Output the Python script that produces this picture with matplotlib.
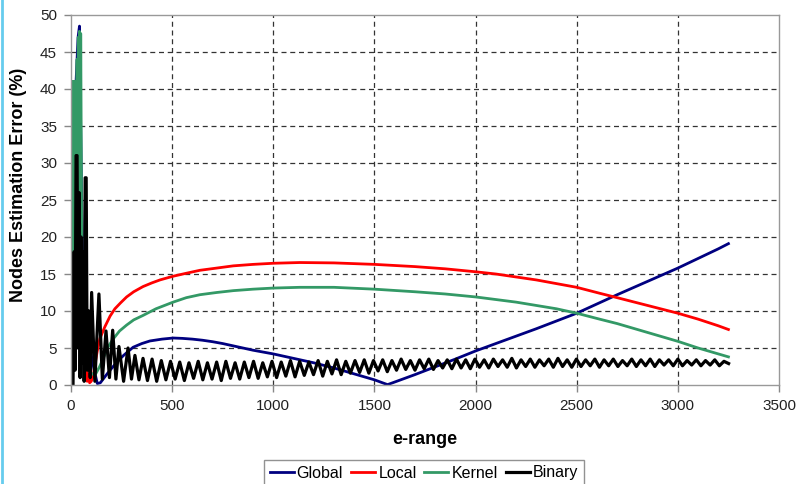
import numpy as np
import matplotlib
matplotlib.use("Agg")
import matplotlib.pyplot as plt
from matplotlib.lines import Line2D

plt.rcParams['font.family'] = ['Liberation Sans', 'DejaVu Sans']

# ---- data -------------------------------------------------------------
global_x = [0, 5, 15, 25, 35, 42, 50, 60, 75, 95, 115, 130, 145, 170, 193, 230,
            260, 307, 350, 390, 450, 505, 550, 600, 650, 700, 750, 800, 850, 900,
            950, 1000, 1100, 1200, 1300, 1400, 1500, 1565, 1600, 1700, 1800, 1900,
            2000, 2100, 2200, 2300, 2400, 2500, 2600, 2700, 2800, 2900, 3000,
            3100, 3200, 3250]
global_y = [0, 20, 41, 41, 47, 48.5, 30, 12, 6, 4.7, 2, 0.2, 0.3, 1.2, 2.0, 3.2,
            4.0, 5.1, 5.6, 5.95, 6.2, 6.35, 6.3, 6.2, 6.05, 5.85, 5.6, 5.3, 5.0, 4.7,
            4.45, 4.2, 3.6, 3.0, 2.3, 1.5, 0.7, 0.05, 0.4, 1.4, 2.45, 3.5,
            4.6, 5.6, 6.6, 7.6, 8.65, 9.7, 10.95, 12.2, 13.4, 14.6, 15.8,
            17.1, 18.4, 19.1]

local_x = [0, 10, 20, 30, 40, 50, 60, 70, 80, 88, 92, 100, 110, 120, 130, 143,
           168, 193, 217, 245, 275, 310, 356, 400, 440, 505, 570, 637, 720, 802,
           900, 1000, 1131, 1300, 1500, 1700, 1850, 2000, 2100, 2200, 2300, 2400,
           2500, 2613, 2700, 2800, 2900, 3000, 3100, 3200, 3250]
local_y = [0, 10, 30, 32.5, 20, 12, 10.5, 6, 0.5, 1.5, 0.3, 0.5, 1.2, 3.0, 4.6, 6.3,
           7.9, 9.3, 10.3, 11.1, 11.9, 12.6, 13.3, 13.8, 14.2, 14.7, 15.1, 15.5, 15.8, 16.1,
           16.3, 16.45, 16.55, 16.5, 16.3, 16.0, 15.7, 15.3, 15.0, 14.6, 14.2, 13.7,
           13.2, 12.4, 11.8, 11.1, 10.4, 9.7, 8.9, 8.0, 7.5]

kernel_x = [0, 4, 7, 10, 13, 16, 19, 22, 26, 30, 33, 36, 39, 42, 45, 48, 52, 56,
            60, 65, 70, 78, 88, 100, 118, 140, 158, 180, 208, 240, 275, 310, 356,
            420, 505, 570, 637, 720, 802, 900, 1000, 1131, 1300, 1500, 1700, 1850,
            2000, 2200, 2400, 2500, 2613, 2700, 2800, 2900, 3000, 3100, 3200, 3250]
kernel_y = [0, 41, 1, 41, 2, 41, 3, 41, 5, 44, 8, 47, 10, 47.8, 15, 47.5, 25, 8,
            14, 4, 8, 3, 2, 1.6, 1.3, 2.4, 3.5, 5.0, 6.2, 7.3, 8.1, 8.8, 9.4,
            10.3, 11.2, 11.8, 12.2, 12.5, 12.75, 12.95, 13.1, 13.2, 13.2, 12.95, 12.6, 12.3,
            11.9, 11.2, 10.3, 9.7, 8.9, 8.3, 7.5, 6.7, 5.9, 5.0, 4.2, 3.8]

# start of the binary search curve (large swings)
binary_head_x = [0, 10, 15, 20, 25, 30, 35, 40, 45, 50, 55, 60, 65, 70, 75, 80,
                 88, 95, 102, 118, 138, 155, 173, 190, 206, 222, 237, 260, 282,
                 299, 316, 336, 356]
binary_head_y = [0, 0, 18, 2, 31, 31, 5, 26, 1, 20, 3, 18, 0.5, 28, 28, 2,
                 10, 1, 12.5, 0.5, 12.3, 0.8, 7.3, 1.0, 7.4, 0.8, 5.2, 0.5, 5.0,
                 0.8, 4.0, 0.7, 3.6]
# steady oscillation, alternating trough / peak every half period
binary_tail_start = 378
binary_tail_step = 22.8
binary_tail_y = [
    0.6, 3.5, 0.5, 3.3, 0.7, 3.2,
    0.8, 3.1, 0.6, 3.0, 0.9, 3.2, 0.7, 3.0, 0.8, 3.1, 0.6, 3.2, 0.9, 3.0, 0.8, 3.1, 1.0, 3.2, 0.9, 3.0, 1.1, 3.2,
    1.0, 3.1, 1.2, 3.3, 1.1, 3.2, 1.3, 3.1, 1.4, 3.3, 1.2, 3.2, 1.5, 3.4, 1.4, 3.2, 1.6, 3.3, 1.7, 3.4, 1.6, 3.3,
    1.9, 3.4, 1.8, 3.3, 2.0, 3.5, 2.1, 3.3, 2.0, 3.4, 2.2, 3.5, 2.1, 3.3, 2.3, 3.4, 2.2, 3.5, 2.3, 3.4, 2.2, 3.5,
    2.4, 3.4, 2.3, 3.5, 2.5, 3.4, 2.4, 3.6, 2.3, 3.4, 2.5, 3.5, 2.4, 3.4, 2.6, 3.5, 2.4, 3.6, 2.5, 3.4, 2.4, 3.5,
    2.5, 3.4, 2.6, 3.5, 2.4, 3.4, 2.6, 3.5, 2.5, 3.3, 2.6, 3.5, 2.5, 3.4, 2.6, 3.5, 2.5, 3.4, 2.7, 3.4, 2.6, 3.5,
    2.6, 3.3, 2.7, 3.4, 2.6, 3.3, 2.7, 3.4, 2.6, 3.2, 2.9,
]

series_names = ["Global", "Local", "Kernel", "Binary"]
series_colors = ["#000080", "#ff0000", "#339966", "#000000"]
series_widths = [2.0, 2.0, 2.0, 2.3]

x_ticks = [0, 500, 1000, 1500, 2000, 2500, 3000, 3500]
y_ticks = [0, 5, 10, 15, 20, 25, 30, 35, 40, 45, 50]

# ---- figure -----------------------------------------------------------
fig = plt.figure(figsize=(7.98, 4.84), dpi=100)
ax = fig.add_axes([71 / 798, 1 - 385 / 484, 708 / 798, 370 / 484])

binary_tail_x = binary_tail_start + binary_tail_step * np.arange(len(binary_tail_y))
binary_x = np.concatenate([binary_head_x, binary_tail_x])
binary_y = np.concatenate([binary_head_y, binary_tail_y])

data = [(global_x, global_y), (local_x, local_y), (kernel_x, kernel_y), (binary_x, binary_y)]
for (xs, ys), name, col, lw in zip(data, series_names, series_colors, series_widths):
    ax.plot(xs, ys, color=col, lw=lw, label=name, solid_joinstyle='round')

ax.set_xlim(0, 3500)
ax.set_ylim(0, 50)
ax.set_xticks(x_ticks)
ax.set_yticks(y_ticks)

for v in y_ticks[1:-1]:
    ax.axhline(v, color='#333333', lw=0.9, dashes=(4, 3), zorder=0)
for v in x_ticks[1:-1]:
    ax.axvline(v, color='#333333', lw=0.9, dashes=(4, 3), zorder=0)

for s in ax.spines.values():
    s.set_color('#999999')
    s.set_linewidth(1.0)

ax.tick_params(axis='both', direction='out', length=5, width=1, color='#888888',
               labelsize=11, labelcolor='#222222', pad=5)

ax.set_xlabel("e-range", fontsize=13, fontweight='bold')
ax.xaxis.set_label_coords(0.5, -0.125)
ax.set_ylabel("Nodes Estimation Error (%)", fontsize=13, fontweight='bold')
ax.yaxis.set_label_coords(-0.062, 0.54)

leg = ax.legend(loc='center', bbox_to_anchor=(424 / 798, 1 - 473 / 484),
                bbox_transform=fig.transFigure, ncol=4, frameon=True, fancybox=False,
                edgecolor='#777777', fontsize=11.5, handlelength=1.5, handletextpad=0.2,
                columnspacing=0.5, borderpad=0.35, borderaxespad=0)
leg.get_frame().set_linewidth(1.0)

# thin accent bar along the left edge of the figure
fig.add_artist(Line2D([0.003, 0.003], [0, 1], transform=fig.transFigure,
                      color='#66ccee', lw=2))

fig.savefig("out.png", dpi=100)
